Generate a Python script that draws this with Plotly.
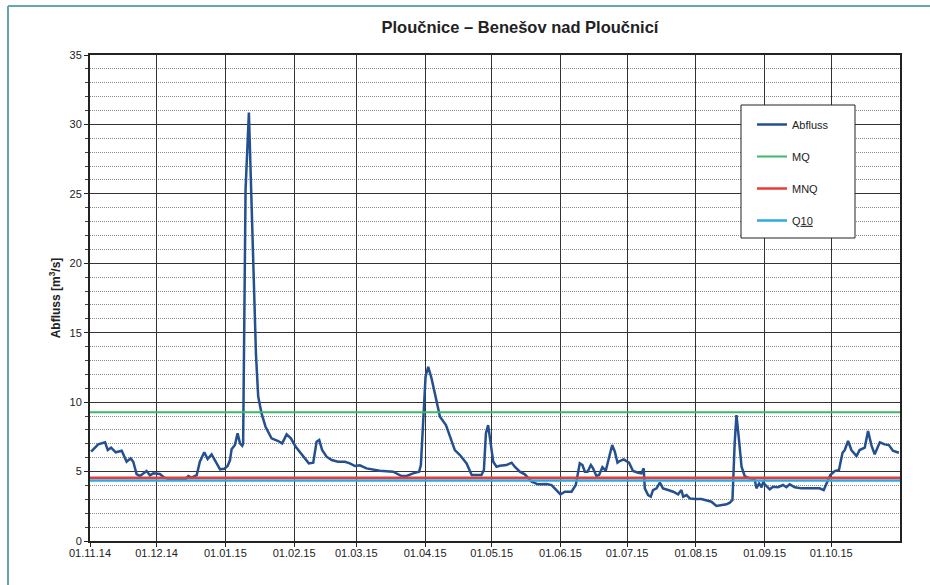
import pandas as pd
import plotly.graph_objects as go

# ---- data ----
start_date = "2014-11-01"
end_date = "2015-11-01"

# days since 01.11.14 and discharge [m3/s]
day_offsets = [
    0.5, 3.7, 6.8, 8.0, 9.5, 11.6, 14.3, 16.5, 18.3, 19.5, 21.0, 22.5, 25.5, 27.0, 28.5,
    31.5, 33.5, 36.0, 40.0, 43.0, 44.3, 45.8, 48.1, 49.5, 51.5, 53.0, 54.8, 56.6, 58.6,
    60.5, 62.0, 63.1, 63.8, 65.3, 66.5, 67.6, 68.6, 69.0, 70.1, 71.6, 73.6, 74.8, 75.8,
    77.3, 79.1, 81.8, 84.8, 86.6, 88.6, 90.5, 92.7, 94.6, 96.8, 98.6, 100.6, 102.1,
    103.3, 104.6, 106.6, 108.9, 111.8, 114.9, 117.1, 119.4, 121.6, 124.6, 130.6, 136.6,
    140.4, 142.7, 145.6, 148.3, 149.1, 150.1, 151.2, 152.4, 153.9, 155.4, 157.7, 160.4,
    162.2, 164.4, 166.7, 169.7, 172.0, 173.4, 176.4, 177.5, 178.4, 179.4, 180.5, 181.7,
    183.2, 184.7, 187.7, 190.0, 191.4, 193.7, 195.9, 199.0, 201.9, 205.7, 208.0, 210.2,
    212.0, 214.0, 217.0, 218.9, 220.7, 221.9, 223.0, 224.2, 225.7, 226.7, 228.2, 229.4,
    230.9, 232.4, 233.9, 235.3, 236.5, 237.7, 238.7, 240.5, 242.9, 244.7, 247.0, 248.5,
    249.5, 250.0, 251.5, 252.7, 253.7, 255.3, 256.8, 258.2, 260.5, 262.8, 265.0, 266.5,
    267.3, 268.8, 270.3, 272.5, 275.5, 277.8, 280.0, 282.3, 284.5, 286.8, 288.3, 289.5,
    290.5, 291.3, 292.3, 293.6, 295.0, 297.3, 299.5, 300.3, 301.5, 302.6, 303.3, 304.8,
    306.3, 307.8, 310.0, 312.3, 313.8, 315.3, 317.6, 320.6, 323.6, 325.8, 328.8, 330.6,
    332.1, 333.6, 335.6, 337.5, 339.1, 340.1, 341.6, 343.1, 345.4, 346.8, 349.1, 350.6,
    352.1, 353.6, 355.9, 358.1, 360.0, 361.8, 364.5,
]
abfluss = [
    6.43, 6.96, 7.11, 6.55, 6.72, 6.39, 6.50, 5.71, 5.95, 5.71, 4.82, 4.68, 5.04, 4.73, 4.87,
    4.82, 4.56, 4.45, 4.42, 4.45, 4.68, 4.56, 4.75, 5.71, 6.39, 5.90, 6.24, 5.71, 5.16,
    5.20, 5.40, 5.83, 6.60, 6.91, 7.75, 7.03, 6.86, 7.00, 25.3, 30.85, 19.5, 13.4, 10.4,
    9.19, 8.23, 7.39, 7.20, 7.03, 7.68, 7.39, 6.79, 6.43, 5.95, 5.59, 5.64, 7.15,
    7.27, 6.55, 6.07, 5.83, 5.71, 5.71, 5.59, 5.40, 5.45, 5.23, 5.06, 4.99,
    4.68, 4.68, 4.87, 4.99, 5.47, 8.95, 11.83, 12.55, 11.71, 10.63, 8.95, 8.35,
    7.51, 6.55, 6.19, 5.59, 4.75, 4.75, 4.75, 5.11, 7.75, 8.35, 7.03, 5.71,
    5.35, 5.42, 5.47, 5.64, 5.35, 4.99, 4.80, 4.27, 4.08, 4.10, 4.03, 3.67,
    3.36, 3.55, 3.55, 4.03, 5.59, 5.47, 4.99, 4.99, 5.47, 5.23, 4.68, 4.75,
    5.31, 5.06, 5.95, 6.91, 6.43, 5.64, 5.76, 5.88, 5.64, 5.04, 4.92, 4.87,
    5.23, 3.79, 3.31, 3.19, 3.67, 3.79, 4.20, 3.79, 3.67, 3.55, 3.36, 3.67,
    3.19, 3.31, 3.07, 3.02, 3.02, 2.90, 2.83, 2.52, 2.59, 2.64, 2.76, 2.95,
    7.03, 9.07, 7.51, 5.35, 4.68, 4.51, 4.46, 3.79, 4.15, 3.87, 4.20, 3.96,
    3.72, 3.91, 3.87, 4.03, 3.87, 4.08, 3.87, 3.79, 3.79, 3.84, 3.79, 3.67,
    4.27, 4.75, 5.04, 5.11, 6.36, 6.55, 7.20, 6.55, 6.12, 6.55, 6.72, 7.92,
    6.91, 6.24, 7.11, 6.96, 6.91, 6.50, 6.36,
]

MQ = 9.27
MNQ = 4.55
Q10 = 4.35

tick_dates = ["2014-11-01", "2014-12-01", "2015-01-01", "2015-02-01", "2015-03-01",
              "2015-04-01", "2015-05-01", "2015-06-01", "2015-07-01", "2015-08-01",
              "2015-09-01", "2015-10-01"]
tick_labels = ["01.11.14", "01.12.14", "01.01.15", "01.02.15", "01.03.15", "01.04.15",
               "01.05.15", "01.06.15", "01.07.15", "01.08.15", "01.09.15", "01.10.15"]

title_text = "Ploučnice – Benešov nad Ploučnicí"
y_title = "Abfluss [m<sup>3</sup>/s]"

# ---- figure ----
dates = pd.Timestamp(start_date) + pd.to_timedelta(day_offsets, unit="D")

W, H = 930, 585
L, R, T, B = 90, 30, 55, 44
PW, PH = W - L - R, H - T - B


def px_x(x):
    return (x - L) / PW


def px_y(y):
    return (H - B - y) / PH


fig = go.Figure()
fig.add_trace(go.Scatter(x=dates, y=abfluss, mode="lines", name="Abfluss",
                         line=dict(color="#24508f", width=2.5), legendgroup="a"))
span = [start_date, end_date]
fig.add_trace(go.Scatter(x=span, y=[MQ, MQ], mode="lines", name="MQ",
                         line=dict(color="#3cb86a", width=2), legendgroup="b"))
fig.add_trace(go.Scatter(x=span, y=[MNQ, MNQ], mode="lines", name="MNQ",
                         line=dict(color="#ec3a35", width=2.5), legendgroup="c"))
fig.add_trace(go.Scatter(x=span, y=[Q10, Q10], mode="lines", name="Q<u>10</u>",
                         line=dict(color="#2fa9e2", width=2.5), legendgroup="d"))

font_fam = "Liberation Sans, Arial, sans-serif"

fig.update_layout(
    width=W, height=H,
    margin=dict(l=L, r=R, t=T, b=B, autoexpand=False),
    paper_bgcolor="white", plot_bgcolor="white",
    font=dict(family=font_fam, size=11, color="#222"),
    title=dict(text="<b>" + title_text + "</b>", x=520 / W, xref="container", xanchor="center",
               y=1 - 27 / H, yref="container", yanchor="middle",
               font=dict(size=16.5, family=font_fam, color="#222")),
    showlegend=True,
    legend=dict(x=px_x(752), y=px_y(110), xanchor="left", yanchor="top",
                bgcolor="rgba(0,0,0,0)", borderwidth=0, tracegroupgap=13,
                font=dict(size=11, family=font_fam, color="#222"), itemwidth=30),
    xaxis=dict(type="date", range=[start_date, end_date], tickvals=tick_dates,
               ticktext=tick_labels, tickangle=0,
               showgrid=True, gridcolor="#333", gridwidth=1,
               ticks="outside", ticklen=4, tickcolor="#222", ticklabelstandoff=-3,
               showline=True, mirror=True, linecolor="#222", linewidth=2,
               zeroline=False, tickfont=dict(size=11)),
    yaxis=dict(range=[0, 35], dtick=5, tick0=0,
               showgrid=True, gridcolor="#333", gridwidth=1,
               ticks="outside", ticklen=4, tickcolor="#222",
               showline=True, mirror=True, linecolor="#222", linewidth=2,
               zeroline=False, tickfont=dict(size=11),
               minor=dict(dtick=1, tick0=0, showgrid=True, griddash="1px,1px",
                          gridcolor="#8a8a8a", gridwidth=1, ticks="outside",
                          ticklen=3, tickcolor="#444"),
               title=dict(text="<b>" + y_title + "</b>", font=dict(size=12), standoff=6)),
    shapes=[
        # legend box
        dict(type="rect", xref="paper", yref="paper",
             x0=px_x(741), x1=px_x(855), y0=px_y(238), y1=px_y(105),
             fillcolor="white", line=dict(color="#222", width=1), layer="above"),
        # outer teal frame (top and left edges)
        dict(type="line", xref="paper", yref="paper",
             x0=px_x(8), x1=px_x(932), y0=px_y(6), y1=px_y(6),
             line=dict(color="#6aa5ac", width=2)),
        dict(type="line", xref="paper", yref="paper",
             x0=px_x(8), x1=px_x(8), y0=px_y(6), y1=px_y(590),
             line=dict(color="#6aa5ac", width=2)),
    ],
)

fig.write_html("out.html", config={"displayModeBar": False},
               post_script="document.body.style.margin='0';document.body.style.overflow='hidden';")
